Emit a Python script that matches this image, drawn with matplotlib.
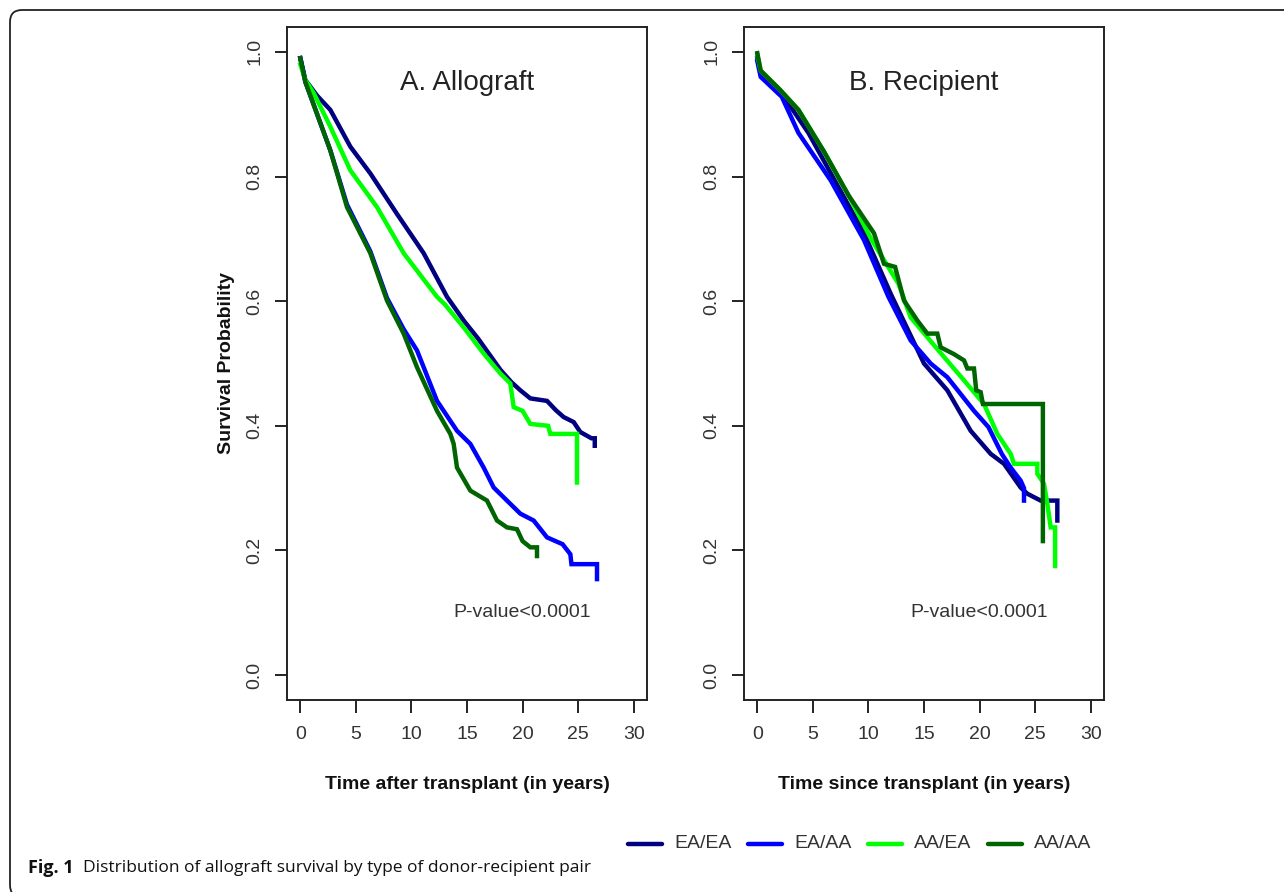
import matplotlib
matplotlib.use("Agg")
import matplotlib.pyplot as plt
from matplotlib.patches import FancyBboxPatch
from matplotlib.lines import Line2D

plt.rcParams['font.family'] = ['Liberation Sans', 'DejaVu Sans']

# group labels and colours
groups = ["EA/EA", "EA/AA", "AA/EA", "AA/AA"]
colors = ["#000080", "#0000FF", "#00FF00", "#006400"]

# A. Allograft survival curves (time in years, survival probability)
a_eaea_t = [0, 0.45, 1.5, 2.7, 4.5, 6.3, 8.7, 11.1, 13.2, 14.7, 16, 17, 18, 19, 19.8, 20.7, 22.2, 23, 23.7, 24.6, 25.2, 26.2, 26.5, 26.5]
a_eaea_s = [0.99, 0.955, 0.93, 0.907, 0.848, 0.805, 0.74, 0.677, 0.607, 0.569, 0.54, 0.515, 0.49, 0.47, 0.457, 0.444, 0.44, 0.425, 0.414, 0.406, 0.39, 0.38, 0.38, 0.368]
a_eaaa_t = [0, 0.45, 2.7, 4.2, 6.3, 7.8, 9.3, 10.5, 12.3, 14.1, 15.3, 16.5, 17.4, 18.6, 19.8, 21, 22.2, 23.6, 24.3, 24.4, 26.7, 26.7]
a_eaaa_s = [0.99, 0.952, 0.842, 0.755, 0.68, 0.605, 0.555, 0.521, 0.44, 0.392, 0.371, 0.333, 0.301, 0.28, 0.259, 0.248, 0.221, 0.21, 0.194, 0.178, 0.178, 0.154]
a_aaea_t = [0, 0.45, 1.2, 2.7, 4.5, 6.9, 9.3, 12.3, 13, 14.7, 16.5, 18, 18.9, 19.2, 20, 20.7, 22.3, 22.5, 24.9, 24.9]
a_aaea_s = [0.98, 0.955, 0.934, 0.88, 0.81, 0.751, 0.677, 0.607, 0.595, 0.558, 0.516, 0.484, 0.468, 0.43, 0.424, 0.403, 0.40, 0.387, 0.387, 0.309]
a_aaaa_t = [0, 0.45, 2.7, 4.2, 6.3, 7.8, 9.3, 10.5, 12.3, 13.5, 13.8, 14.1, 15.3, 16.8, 17.7, 18.6, 19.5, 20, 20.7, 21.3, 21.3]
a_aaaa_s = [0.99, 0.952, 0.842, 0.751, 0.677, 0.601, 0.548, 0.494, 0.424, 0.387, 0.371, 0.333, 0.296, 0.28, 0.248, 0.237, 0.234, 0.215, 0.205, 0.205, 0.191]

# B. Recipient survival curves
b_eaea_t = [0, 0.3, 2.2, 4.6, 7.3, 9.6, 12, 15, 17.1, 19.2, 21, 22.2, 23.7, 24.3, 25.5, 27, 27]
b_eaea_s = [0.99, 0.965, 0.933, 0.87, 0.783, 0.709, 0.612, 0.5, 0.457, 0.392, 0.355, 0.339, 0.301, 0.291, 0.28, 0.28, 0.248]
b_eaaa_t = [0, 0.3, 2.2, 3.7, 6.6, 9.6, 11.8, 13.8, 15.6, 17.1, 18.3, 19.5, 20.8, 22, 22.8, 23.7, 24, 24]
b_eaaa_s = [0.985, 0.96, 0.928, 0.87, 0.794, 0.698, 0.607, 0.537, 0.5, 0.478, 0.451, 0.424, 0.398, 0.355, 0.333, 0.312, 0.30, 0.28]
b_aaea_t = [0, 0.3, 2, 3.7, 6, 8.2, 10.3, 12.7, 13.8, 16.3, 18.6, 20.4, 21.6, 22.8, 23.1, 25.2, 25.2, 25.8, 26.1, 26.4, 26.8, 26.8]
b_aaea_s = [0.995, 0.97, 0.94, 0.907, 0.84, 0.77, 0.698, 0.628, 0.574, 0.521, 0.473, 0.435, 0.387, 0.355, 0.339, 0.339, 0.323, 0.307, 0.275, 0.237, 0.237, 0.175]
b_aaaa_t = [0, 0.3, 2, 3.7, 6, 8.2, 10.5, 11.4, 12.4, 13.2, 14.4, 15.3, 16.2, 16.5, 17.7, 18.6, 18.9, 19.5, 19.7, 20.1, 20.3, 25.7, 25.7]
b_aaaa_s = [0.998, 0.97, 0.94, 0.907, 0.84, 0.77, 0.709, 0.66, 0.655, 0.601, 0.569, 0.548, 0.548, 0.526, 0.515, 0.505, 0.492, 0.492, 0.457, 0.454, 0.435, 0.435, 0.215]

x_ticks = [0, 5, 10, 15, 20, 25, 30]
y_ticks = [0.0, 0.2, 0.4, 0.6, 0.8, 1.0]

panels = [
    ("A. Allograft", "Time after transplant (in years)",
     [(a_eaea_t, a_eaea_s), (a_eaaa_t, a_eaaa_s), (a_aaea_t, a_aaea_s), (a_aaaa_t, a_aaaa_s)]),
    ("B. Recipient", "Time since transplant (in years)",
     [(b_eaea_t, b_eaea_s), (b_eaaa_t, b_eaaa_s), (b_aaea_t, b_aaea_s), (b_aaaa_t, b_aaaa_s)]),
]

W, H = 1284, 892
fig = plt.figure(figsize=(W / 100, H / 100), dpi=100)

# rounded frame of the journal figure
frame = FancyBboxPatch((10, -5), 1300, 887, boxstyle="round,pad=0,rounding_size=12",
                       transform=None, fill=False, lw=1.3, ec="#222222")
fig.patches.append(frame)

ax_lefts = [287, 744]
for i, (title, xlab, curves) in enumerate(panels):
    ax = fig.add_axes([ax_lefts[i] / W, 1 - 700 / H, 360 / W, 673 / H])
    # AA/AA drawn first in A so blue sits on top later? keep R order
    for (t, s), c in zip(curves, colors):
        ax.plot(t, s, color=c, lw=3.2, solid_joinstyle="miter")
    ax.set_xlim(-1.2, 31.2)
    ax.set_ylim(-0.04, 1.04)
    ax.set_xticks(x_ticks)
    ax.set_yticks(y_ticks)
    ax.set_yticklabels(["%.1f" % v for v in y_ticks], rotation=90, va="center")
    for sp in ax.spines.values():
        sp.set_linewidth(1.4)
        sp.set_color("#222222")
    ax.tick_params(axis="both", direction="out", length=9, width=1.4, color="#222222",
                   labelsize=14, labelcolor="#333333")
    ax.tick_params(axis="x", pad=10)
    ax.tick_params(axis="y", pad=8)
    ax.set_xlabel(xlab, fontsize=14, fontweight="bold", color="#111111")
    ax.xaxis.set_label_coords(0.5, -0.125)
    ax.xaxis.label.set_va("center")
    if i == 0:
        ax.set_ylabel("Survival Probability", fontsize=14, fontweight="bold", color="#111111")
        ax.yaxis.set_label_coords(-0.169, 0.5)
        ax.yaxis.label.set_va("center")
    ax.text(15, 0.95, title, fontsize=20, ha="center", va="center", color="#222222")
    ax.text(20, 0.1, "P-value<0.0001", fontsize=14, ha="center", va="center", color="#333333")

# legend along the bottom
for k, (g, c) in enumerate(zip(groups, colors)):
    x0 = 628 + k * 120
    fig.add_artist(Line2D([x0 / W, (x0 + 34) / W], [1 - 844 / H, 1 - 844 / H],
                          color=c, lw=3.2, solid_capstyle="round"))
    fig.text((x0 + 46) / W, 1 - 844 / H, g, fontsize=14, va="center", color="#333333",
             family=["Liberation Sans Narrow", "Liberation Sans"])

# caption
fig.text(28 / W, 1 - 868 / H, "Fig. 1", fontsize=13, fontweight="bold", va="center",
         family=["Open Sans", "DejaVu Sans"], color="#111111")
fig.text(83 / W, 1 - 868 / H, "Distribution of allograft survival by type of donor-recipient pair",
         fontsize=12.5, va="center", family=["Open Sans", "DejaVu Sans"], color="#111111")

fig.savefig("out.png", dpi=100)
